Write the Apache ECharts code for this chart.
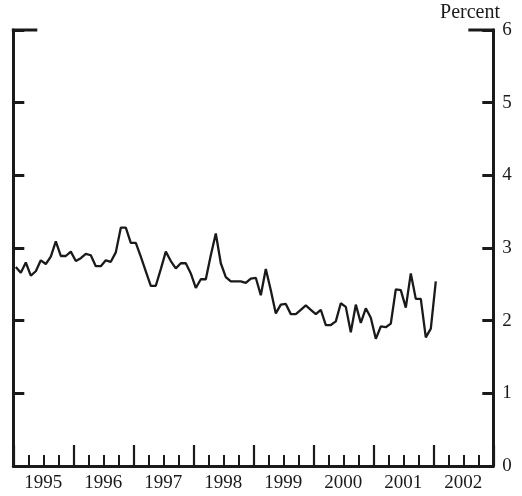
<!DOCTYPE html>
<html>
<head>
<meta charset="utf-8">
<script src="https://cdn.jsdelivr.net/npm/echarts@6/dist/echarts.min.js"></script>
<style>
  html, body { margin: 0; padding: 0; background: #fff; }
  #chart { width: 522px; height: 496px; }
</style>
</head>
<body>
<div id="chart"></div>
<script>
// monthly values, Jan 1995 .. Jan 2002 (percent)
var values = [
  2.74, 2.66, 2.80, 2.62, 2.68, 2.83, 2.78, 2.88, 3.09, 2.89, 2.89, 2.95,
  2.82, 2.86, 2.92, 2.90, 2.75, 2.75, 2.83, 2.81, 2.94, 3.28, 3.28, 3.07,
  3.07, 2.88, 2.68, 2.48, 2.48, 2.71, 2.95, 2.82, 2.72, 2.79, 2.79, 2.65,
  2.45, 2.57, 2.57, 2.90, 3.20, 2.79, 2.60, 2.54, 2.54, 2.54, 2.52, 2.58,
  2.59, 2.35, 2.71, 2.42, 2.10, 2.22, 2.23, 2.09, 2.09, 2.15, 2.21, 2.15,
  2.09, 2.15, 1.94, 1.94, 1.99, 2.24, 2.19, 1.84, 2.22, 1.97, 2.17, 2.04,
  1.75, 1.92, 1.91, 1.96, 2.43, 2.42, 2.18, 2.65, 2.30, 2.30, 1.77, 1.89,
  2.54
];
var years = ['1995', '1996', '1997', '1998', '1999', '2000', '2001', '2002'];
var yTicks = [0, 1, 2, 3, 4, 5, 6];

var serif = '"Liberation Serif", "DejaVu Serif", serif';
var ink = '#1a1a1a';

// month index -> mid-month position
var points = values.map(function (v, i) { return [i + 0.5, v]; });

var G = { left: 13.3, right: 28.7, top: 30, bottom: 30 };
var W = 522, H = 496;

var chart = echarts.init(document.getElementById('chart'));
var option = {
  animation: false,
  grid: { left: G.left, right: G.right, top: G.top, bottom: G.bottom },
  xAxis: [{
    type: 'value',
    min: 0,
    max: years.length * 12,
    interval: 12,
    axisLine: { show: true, onZero: false, lineStyle: { color: ink, width: 3 } },
    axisTick: { show: true, inside: true, length: 21, lineStyle: { color: ink, width: 2.2 } },
    minorTick: { show: true, splitNumber: 4, length: 11, lineStyle: { color: ink, width: 2 } },
    axisLabel: { show: false },
    splitLine: { show: false }
  }, {
    type: 'category',
    data: years,
    position: 'bottom',
    axisLine: { show: false },
    axisTick: { show: false },
    axisLabel: { show: true, color: ink, fontFamily: serif, fontSize: 19, margin: 8 },
    splitLine: { show: false }
  }],
  yAxis: [{
    type: 'value',
    position: 'left',
    min: yTicks[0],
    max: yTicks[yTicks.length - 1],
    interval: 1,
    axisLine: { show: true, onZero: false, lineStyle: { color: ink, width: 3 } },
    axisTick: { show: true, inside: true, length: 11, lineStyle: { color: ink, width: 3 } },
    axisLabel: { show: false },
    splitLine: { show: false }
  }, {
    type: 'value',
    position: 'right',
    min: yTicks[0],
    max: yTicks[yTicks.length - 1],
    interval: 1,
    axisLine: { show: true, onZero: false, lineStyle: { color: ink, width: 3 } },
    axisTick: { show: true, inside: true, length: 11, lineStyle: { color: ink, width: 3 } },
    axisLabel: { show: true, color: ink, fontFamily: serif, fontSize: 19, margin: 9 },
    splitLine: { show: false }
  }],
  graphic: [
    // short corner stubs along the top edge
    { type: 'line', shape: { x1: G.left - 1.5, y1: G.top, x2: G.left + 24, y2: G.top },
      style: { stroke: ink, lineWidth: 3 } },
    { type: 'line', shape: { x1: W - G.right - 25, y1: G.top, x2: W - G.right + 1.5, y2: G.top },
      style: { stroke: ink, lineWidth: 3 } },
    { type: 'text', right: 22, top: 3,
      style: { text: 'Percent', fill: ink, font: '20px ' + serif } }
  ],
  series: [{
    type: 'line',
    xAxisIndex: 0,
    yAxisIndex: 0,
    data: points,
    symbol: 'none',
    lineStyle: { color: ink, width: 2.3 }
  }]
};
chart.setOption(option);
</script>
</body>
</html>
